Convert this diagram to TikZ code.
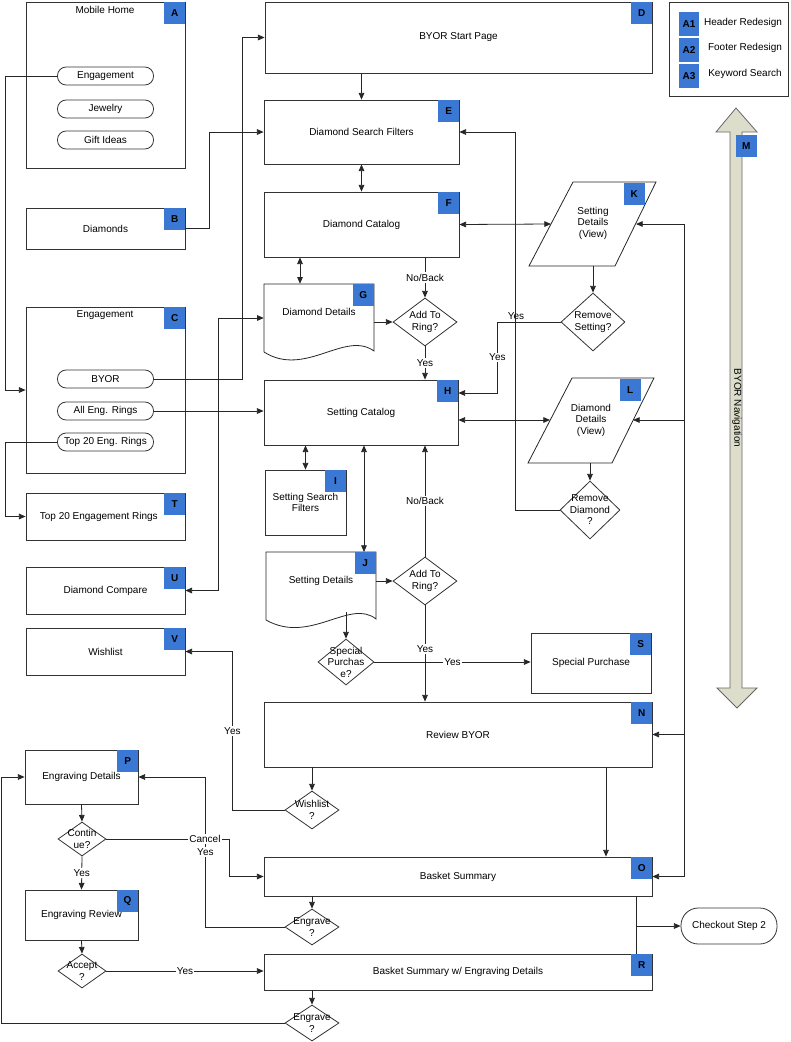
\documentclass[tikz,border=0pt]{standalone}
\usepackage{fontspec}
\setmainfont{Liberation Sans}
\usetikzlibrary{shapes.geometric,arrows.meta}
\newcommand\pxu{0.75pt}
\definecolor{tagblue}{RGB}{58,120,212}
\definecolor{navfill}{RGB}{221,221,204}
\tikzset{
  box/.style={draw=black!80,line width=.6pt,inner sep=1pt,align=center},
  pill/.style={draw=black!80,line width=.6pt,rounded corners=6.5pt,minimum width=96*\pxu,minimum height=18*\pxu,inner sep=0pt},
  dia/.style={diamond,draw=black!80,line width=.6pt,inner sep=0pt},
  dtext/.style={align=center,font=\fontsize{7.5}{8.6}\selectfont},
  tag/.style={fill=tagblue,anchor=north east,minimum width=21*\pxu,minimum height=22*\pxu,inner sep=0pt,font=\fontsize{7.5}{8}\selectfont\bfseries},
  lbl/.style={fill=white,inner sep=1pt},
  con/.style={line width=.6pt,draw=black!85}
}
\begin{document}
\begin{tikzpicture}
[x=\pxu,y=-\pxu,>={Triangle[length=5pt,width=4.2pt]},font=\fontsize{7.5}{8.6}\selectfont]
\useasboundingbox (0,0) rectangle (791,1042);

% left column
\node[box,minimum width=159*\pxu,minimum height=166*\pxu] (A) at (105.5,85) {};
\node at (105,10) {Mobile Home};
\node[pill] (eng1) at (105.5,76) {Engagement};
\node[pill] (jew) at (105.5,109) {Jewelry};
\node[pill] (gift) at (105.5,140) {Gift Ideas};
\node[box,minimum width=159*\pxu,minimum height=41*\pxu] (B) at (105.5,228.5) {Diamonds};
\node[box,minimum width=159*\pxu,minimum height=166*\pxu] (C) at (105.5,390) {};
\node at (105,315) {Engagement};
\node[pill] (byor) at (105.5,379) {BYOR};
\node[pill] (alleng) at (105.5,411) {All Eng. Rings};
\node[pill] (top20) at (105.5,442) {Top 20 Eng. Rings};
\node[box,minimum width=159*\pxu,minimum height=47*\pxu] (T) at (105.5,516.5) {Top 20 Engagement Rings\hspace{10pt}};
\node[box,minimum width=159*\pxu,minimum height=47*\pxu] (U) at (105.5,590.5) {Diamond Compare};
\node[box,minimum width=159*\pxu,minimum height=47*\pxu] (V) at (105.5,651.5) {Wishlist};
\node[box,minimum width=113*\pxu,minimum height=54*\pxu] (P) at (81.5,777) {Engraving Details};
\node[dia,minimum width=48*\pxu,minimum height=34*\pxu,label={[dtext]center:Contin\\ue?}] (cont) at (82,839) {};
\node[box,minimum width=113*\pxu,minimum height=50*\pxu] (Q) at (81.5,915) {Engraving Review};
\node[dia,minimum width=48*\pxu,minimum height=34*\pxu,label={[dtext]center:Accept\\?}] (acc) at (82,971) {};

% middle column
\node[box,minimum width=387*\pxu,minimum height=71*\pxu] (D) at (458.5,37.5) {BYOR Start Page};
\node[box,minimum width=195*\pxu,minimum height=64*\pxu] (E) at (361.5,132) {Diamond Search Filters};
\node[box,minimum width=195*\pxu,minimum height=65*\pxu] (F) at (361.5,224.5) {Diamond Catalog};
\node[minimum width=110*\pxu,minimum height=68*\pxu] (G) at (319,318) {};
\draw[con] (264,352) -- (264,284) -- (374,284) -- (374,351) .. controls (345,330) and (305,378) .. (264,352);
\node at (319,312) {Diamond Details};
\node[dia,minimum width=64*\pxu,minimum height=48*\pxu,label={[dtext]center:Add To\\Ring?}] (add1) at (425,322) {};
\node[box,minimum width=194*\pxu,minimum height=65*\pxu] (H) at (361,412.5) {Setting Catalog};
\node[box,minimum width=81*\pxu,minimum height=65*\pxu] (I) at (305.5,502.5) {Setting Search\\Filters};
\node[minimum width=110*\pxu,minimum height=76*\pxu] (J) at (321,590) {};
\draw[con] (266,620) -- (266,552) -- (376,552) -- (376,619) .. controls (350,598) and (310,645) .. (266,620);
\node at (321,581) {Setting Details};
\coordinate (Jb) at (346,612);
\coordinate (Jtop) at (364,552);
\node[dia,minimum width=64*\pxu,minimum height=48*\pxu,label={[dtext]center:Add To\\Ring?}] (add2) at (425,581) {};
\node[dia,minimum width=56*\pxu,minimum height=46*\pxu,label={[dtext]center:Special\\Purchas\\e?}] (sp) at (346,662) {};
\node[box,minimum width=120*\pxu,minimum height=60*\pxu] (S) at (591,663) {Special Purchase};
\node[box,minimum width=388*\pxu,minimum height=65*\pxu] (N) at (458,734.5) {Review BYOR};
\node[dia,minimum width=54*\pxu,minimum height=38*\pxu,label={[dtext]center:Wishlist\\?}] (wl) at (312,810) {};
\node[box,minimum width=388*\pxu,minimum height=39*\pxu] (O) at (458,876.5) {Basket Summary};
\node[dia,minimum width=54*\pxu,minimum height=36*\pxu,label={[dtext]center:Engrave\\?}] (eg1) at (312,927) {};
\node[box,minimum width=388*\pxu,minimum height=36*\pxu] (R) at (458,972) {Basket Summary w/ Engraving Details};
\node[dia,minimum width=54*\pxu,minimum height=36*\pxu,label={[dtext]center:Engrave\\?}] (eg2) at (312,1023) {};

% right column
\draw[con] (529,266) -- (573,182) -- (656,182) -- (615,266) -- cycle;
\node[align=center] (K) at (593,223) {Setting\\Details\\(View)};
\coordinate (Kw) at (551,224);
\coordinate (Ke) at (636,224);
\coordinate (Ks) at (593,266);
\node[dia,minimum width=64*\pxu,minimum height=58*\pxu,label={[dtext]center:Remove\\Setting?}] (rs) at (593,322) {};
\draw[con] (528,463) -- (572,378) -- (654,378) -- (612,463) -- cycle;
\node[align=center] (L) at (591,420) {Diamond\\Details\\(View)};
\coordinate (Lw) at (550,420);
\coordinate (Le) at (633,420);
\coordinate (Ls) at (590,463);
\node[dia,minimum width=60*\pxu,minimum height=58*\pxu,label={[dtext]center:Remove\\Diamond\\?}] (rd) at (590,510) {};
\node[pill,minimum width=96*\pxu,minimum height=36*\pxu,rounded corners=13pt] (co) at (729,926) {Checkout Step 2};

% legend and navigation
\node[box,minimum width=119*\pxu,minimum height=94*\pxu] (leg) at (728.5,49) {};
\node[tag,anchor=center,minimum width=20*\pxu,minimum height=24*\pxu] (a1) at (689,24) {A1};
\node[tag,anchor=center,minimum width=20*\pxu,minimum height=24*\pxu] (a2) at (689,50) {A2};
\node[tag,anchor=center,minimum width=20*\pxu,minimum height=24*\pxu] (a3) at (689,76) {A3};
\node at (743,23) {Header Redesign};
\node at (745,48) {Footer Redesign};
\node at (745,74) {Keyword Search};
\draw[fill=navfill,draw=black!60,line width=.6pt] (736,108) -- (757,132) -- (742,132) -- (742,688) -- (757,688) -- (737,708) -- (717,688) -- (730,688) -- (730,132) -- (716,132) -- cycle;
\node[rotate=-90] (nav) at (737,408) {BYOR Navigation};
\node[tag] at (757,135) {M};

% tags
\foreach \n in {A,B,C,T,U,V,D,E,F,H,I,S,N,O,R,P,Q}
  \node[tag] at (\n.north east) {\n};
\node[tag] at (374,284) {G};
\node[tag] at (376,552) {J};
\node[tag] at (645,183) {K};
\node[tag] at (641,379) {L};

% connectors
\draw[con,->] (eng1.west) -- (5,76) -- (5,390) -- (C.west);
\draw[con,->] (top20.west) -- (5,442) |- (T.west);
\draw[con,->] (B.east) -- (209,228.5) |- (E.west);
\draw[con,->] (byor.east) -- (242,379) |- (D.west);
\draw[con,<->] (U.east) -- (218,590.5) |- (G.west);
\draw[con,->] (alleng.east) -- (alleng.east -| H.west);
\draw[con,->] (D.south -| E.north) -- (E.north);
\draw[con,<->] (E.south) -- (F.north);
\draw[con,<->] ([xshift=-61.5*\pxu]F.south) -- ([xshift=-19*\pxu]G.north);
\draw[con,->] (F.south -| add1) -- node[lbl]{No/Back} (add1.north);
\draw[con,->] (G.east |- add1) -- (add1.west);
\draw[con,->] (add1.south) -- node[lbl]{Yes} (add1 |- H.north);
\draw[con,<->] (F.east) -- (Kw);
\draw[con,<->] (H.east |- Lw) -- (Lw);
\draw[con,->] (Ks) -- (rs.north);
\draw[con,->] (Ls) -- (rd.north);
\draw[con,->] (rs.west) -| node[lbl,pos=.75]{Yes} ([xshift=39*\pxu,yshift=19.5*\pxu]H.east) -- ([yshift=19.5*\pxu]H.east);
\node[lbl] at (516,316) {Yes};
\draw[con,->] (rd.west) -| ([xshift=56*\pxu]E.east) -- (E.east);
\coordinate (navT) at (684,224);
\coordinate (navB) at (684,876.5);
\draw[con] (navT) -- (navB);
\draw[con,->] (navT) -- (Ke);
\draw[con,->] (navT |- Le) -- (Le);
\draw[con,->] (navT |- N.east) -- (N.east);
\draw[con,->] (navB) -- (O.east);
\draw[con,<->] (I.north |- H.south) -- (I.north);
\draw[con,<->] (Jtop |- H.south) -- (Jtop);
\draw[con,->] (J.east |- add2) -- (add2.west);
\draw[con,->] (add2.north) -- node[lbl]{No/Back} (add2 |- H.south);
\draw[con,->] (add2.south) -- node[lbl,pos=.45]{Yes} (add2 |- N.north);
\draw[con,->] (Jb) -- (sp.north);
\draw[con,->] (sp.east) -- node[lbl]{Yes} (sp -| S.west);
\draw[con,->] (wl.north |- N.south) -- (wl.north);
\draw[con,->] (wl.west) -| node[lbl,pos=.75]{Yes} ([xshift=47*\pxu]V.east) -- (V.east);
\draw[con,->] ([xshift=148*\pxu]N.south) -- ([xshift=148*\pxu]N.south |- O.north);
\coordinate (split) at (636,926);
\draw[con] (split |- O.south) -- (split |- R.north);
\draw[con,->] (split) -- (co.west);
\draw[con,->] (eg1.north |- O.south) -- (eg1.north);
\draw[con,->] (eg1.west) -| node[lbl,pos=.75]{Yes} ([xshift=67*\pxu]P.east) -- (P.east);
\draw[con,->] (P.south) -- (cont.north);
\draw[con,->] (cont.south) -- node[lbl]{Yes} (Q.north);
\draw[con,->] (cont.east) -| node[lbl,pos=.4]{Cancel} ([xshift=-34*\pxu]O.west) -- (O.west);
\draw[con,->] (Q.south) -- (acc.north);
\draw[con,->] (acc.east) -- node[lbl]{Yes} (acc -| R.west);
\draw[con,->] (eg2.north |- R.south) -- (eg2.north);
\draw[con,->] (eg2.west) -| ([xshift=-23*\pxu]P.west) -- (P.west);
\end{tikzpicture}
\end{document}
